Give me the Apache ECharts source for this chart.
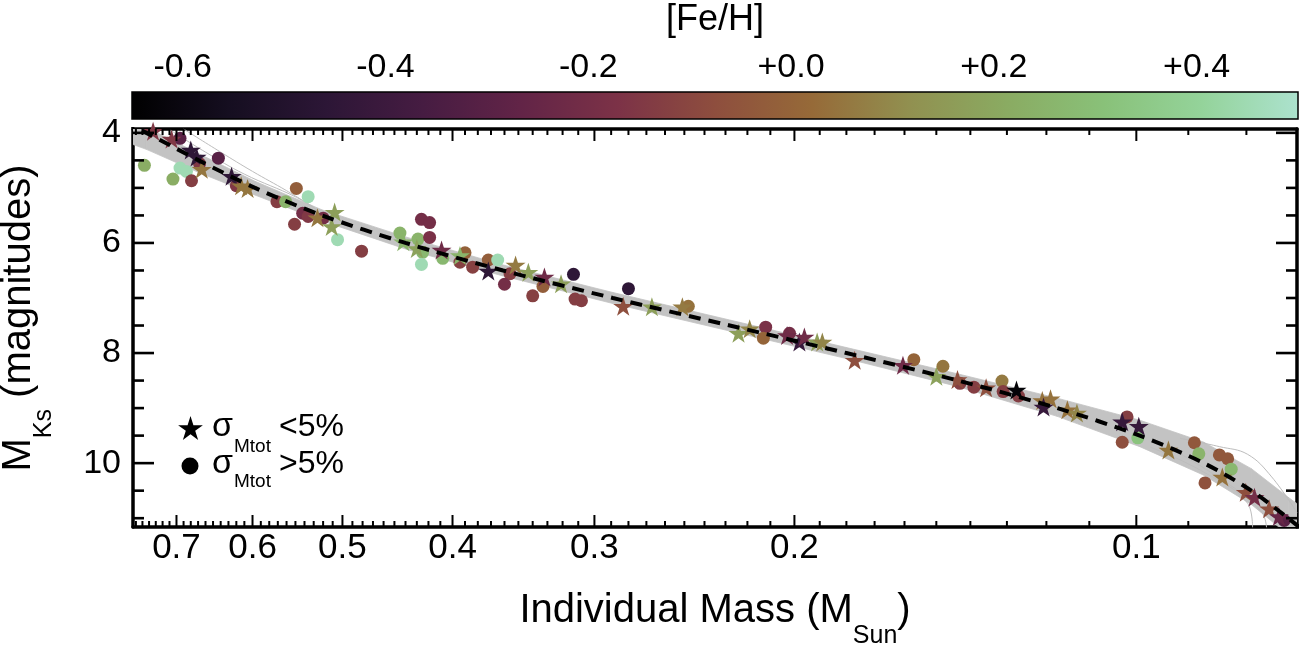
<!DOCTYPE html>
<html><head><meta charset="utf-8">
<script src="https://cdn.jsdelivr.net/npm/echarts@6/dist/echarts.min.js"></script>
<style>html,body{margin:0;padding:0;background:#fff}#c{width:1314px;height:653px}</style>
</head><body><div id="c"></div>
<script>
const FONT = '"Liberation Sans", Arial, Helvetica, sans-serif';

// ---- colour scale ([Fe/H]) ----
const FEH_MIN = -0.65, FEH_MAX = 0.5;
const FEH_TICKS = [-0.6, -0.4, -0.2, 0.0, 0.2, 0.4];
const COLORMAP = ['#000000','#150e20','#2c1636','#461c42','#622447','#7c3247','#8e4e3e',
                  '#966a38','#919050','#8aab62','#89c179','#94d39a','#ace2ce'];

// ---- axes ----
const X_MIN = 0.0722, X_MAX = 0.7645;           // Individual mass (M_Sun), log axis
const Y_MIN = 3.93, Y_MAX = 11.16;              // M_Ks (magnitudes), inverted
const X_TICK_LABELS = [0.7, 0.6, 0.5, 0.4, 0.3, 0.2, 0.1];
const X_MAJOR_TICKS = [0.1, 0.2, 0.3, 0.4, 0.5, 0.6, 0.7];
const X_MINOR_TICKS = [0.08,0.09,0.11,0.12,0.13,0.14,0.15,0.16,0.17,0.18,0.19,
  0.21,0.22,0.23,0.24,0.25,0.26,0.27,0.28,0.29,0.31,0.32,0.33,0.34,0.35,0.36,0.37,0.38,0.39,
  0.41,0.42,0.43,0.44,0.45,0.46,0.47,0.48,0.49,0.51,0.52,0.53,0.54,0.55,0.56,0.57,0.58,0.59,
  0.61,0.62,0.63,0.64,0.65,0.66,0.67,0.68,0.69,0.71,0.72,0.73,0.74,0.75,0.76];
const Y_TICK_LABELS = [4, 6, 8, 10];
const Y_MAJOR_TICKS = [4, 6, 8, 10];
const Y_MINOR_TICKS = [4.5,5,5.5,6.5,7,7.5,8.5,9,9.5,10.5,11];
const KS_REF = 7.0;    // any in-range magnitude, used to project x ticks
const MASS_REF = 0.3;  // any in-range mass, used to project y ticks

// ---- stars: sigma_Mtot < 5% ----
const STAR_MASS = [0.734,0.707,0.680,0.672,0.665,0.626,0.614,0.606,0.526,0.508,0.511,0.442,0.430,0.409,0.394,
  0.372,0.352,0.343,0.332,0.321,0.283,0.267,0.251,0.224,0.219,0.203,0.198,0.196,0.191,0.189,
  0.177,0.1605,0.150,0.1437,0.1356,0.1275,0.121,0.119,0.1207,0.115,0.1128,0.1029,0.0995,0.0937,0.0840,
  0.0801,0.0787,0.0764,0.0749];
const STAR_KS = [3.97,4.11,4.31,4.44,4.66,4.79,4.96,5.01,5.54,5.44,5.70,5.98,6.10,6.13,6.23,
  6.51,6.40,6.53,6.62,6.74,7.15,7.16,7.16,7.64,7.56,7.68,7.80,7.71,7.80,7.80,
  8.13,8.22,8.42,8.48,8.63,8.67,8.86,8.83,8.98,9.03,9.09,9.25,9.33,9.76,10.25,
  10.53,10.62,10.83,10.97];
const STAR_FEH = [-0.15,-0.15,-0.45,-0.45,0.05,-0.45,0.05,0.05,0.05,0.17,0.17,0.25,0.18,-0.22,0.25,
  -0.45,0.06,0.17,-0.22,0.17,-0.07,0.17,0.06,0.17,0.09,-0.22,-0.42,-0.22,0.17,0.09,
  -0.07,-0.22,0.18,-0.07,-0.07,-0.63,0.04,0.04,-0.42,0.04,0.09,-0.42,-0.42,0.05,0.04,
  -0.07,-0.2,-0.07,-0.25];

// ---- circles: sigma_Mtot > 5% ----
const CIRC_MASS = [0.695,0.668,0.643,0.747,0.695,0.686,0.705,0.679,0.620,0.549,0.536,0.571,0.561,0.551,0.542,
  0.536,0.520,0.505,0.481,0.445,0.429,0.425,0.426,0.419,0.419,0.426,0.408,0.390,0.394,0.384,
  0.372,0.365,0.356,0.360,0.333,0.313,0.340,0.312,0.308,0.280,0.248,0.212,0.213,0.202,0.157,
  0.148,0.143,0.139,0.1313,0.131,0.127,0.1019,0.0997,0.1029,0.0889,0.0881,0.0845,0.0831,0.0825,0.0870,0.0741];
const CIRC_KS = [4.10,4.56,4.46,4.59,4.64,4.70,4.84,4.87,4.96,5.01,5.16,5.25,5.25,5.66,5.46,
  5.52,5.55,5.94,6.15,5.82,5.93,6.17,5.57,5.63,5.90,6.39,6.28,6.18,6.35,6.44,
  6.31,6.31,6.56,6.75,6.79,6.57,6.96,7.02,7.05,6.83,7.15,7.53,7.73,7.64,8.12,
  8.24,8.55,8.62,8.51,8.70,8.78,9.16,9.54,9.62,9.63,9.83,9.85,9.92,10.11,10.36,11.04];
const CIRC_FEH = [-0.3,-0.15,-0.3,0.22,0.45,0.45,0.22,-0.13,-0.15,-0.02,0.45,-0.13,0.25,-0.13,-0.2,
  -0.15,-0.2,0.45,-0.13,0.25,0.25,0.27,-0.2,-0.2,-0.18,0.45,0.27,-0.01,-0.12,-0.12,
  -0.02,0.45,-0.13,-0.2,-0.02,-0.45,-0.12,-0.13,-0.13,-0.45,0.04,-0.18,0.0,-0.2,0.0,
  0.05,-0.13,-0.13,0.06,-0.13,-0.13,-0.13,0.32,-0.07,-0.04,0.25,-0.04,-0.04,0.27,-0.06,-0.3];

// ---- best-fit relation (dashed) and its scatter band ----
const FIT_MASS = [0.779,0.744,0.669,0.597,0.521,0.440,0.361,0.289,0.228,0.180,0.1435,0.1174,0.0993,0.0872,0.0792,0.0735,0.0715];
const FIT_KS   = [3.8,4.0,4.5,5.0,5.5,6.0,6.5,7.0,7.5,8.0,8.5,9.0,9.5,10.0,10.5,11.0,11.2];
const BAND_TOP    = [3.70,3.90,4.38,4.88,5.40,5.89,6.40,6.90,7.40,7.90,8.38,8.82,9.22,9.62,10.10,10.62,10.80];
const BAND_BOTTOM = [4.15,4.30,4.72,5.13,5.60,6.11,6.60,7.10,7.60,8.10,8.61,9.15,9.70,10.22,10.75,11.30,11.50];
// a few individual posterior draws that stray from the band
const VAR_A_MASS = [0.709,0.66,0.61,0.549,0.525], VAR_A_KS = [3.95,4.35,4.75,5.17,5.42];
const VAR_B_MASS = [0.69,0.64,0.60,0.56,0.53],    VAR_B_KS = [3.93,4.35,4.70,5.05,5.35];
const VAR_C_MASS = [0.0972,0.0878,0.0798,0.0790], VAR_C_KS = [9.71,10.13,10.73,11.17];
const VAR_D_MASS = [0.0915,0.0845,0.0798,0.0760,0.0722], VAR_D_KS = [9.55,9.70,9.84,10.25,10.90];
const VAR_E_MASS = [0.092,0.082,0.0775,0.0768],   VAR_E_KS = [9.80,10.45,10.90,11.17];

// five-pointed star outline in a 100x100 box
const STAR_PTS = [[50,0],[61.23,34.55],[97.55,34.55],[68.16,55.9],[79.39,90.45],[50,69.1],
                  [20.61,90.45],[31.84,55.9],[2.45,34.55],[38.77,34.55]];
const STAR_PATH = 'path://M' + STAR_PTS.map(p => p.join(',')).join(' L') + ' Z';

const zip = (a, b) => a.map((v, i) => [v, b[i]]);
const zip3 = (a, b, c) => a.map((v, i) => [v, b[i], c[i]]);

function xTickSeries(values, len) {
  return {
    type: 'custom', xAxisIndex: 0, yAxisIndex: 0, silent: true, z: 20,
    data: values.map(v => [v, KS_REF]),
    renderItem: (params, api) => {
      const cs = params.coordSys;
      const x = api.coord([api.value(0), api.value(1)])[0];
      if (x < cs.x || x > cs.x + cs.width) return;
      const yb = cs.y + cs.height, yt = cs.y;
      return { type: 'group', children: [
        { type: 'line', shape: { x1: x, y1: yb, x2: x, y2: yb - len }, style: { stroke: '#000', lineWidth: 2 } },
        { type: 'line', shape: { x1: x, y1: yt, x2: x, y2: yt + len }, style: { stroke: '#000', lineWidth: 2 } }
      ]};
    }
  };
}
function yTickSeries(values, len) {
  return {
    type: 'custom', xAxisIndex: 0, yAxisIndex: 0, silent: true, z: 20,
    data: values.map(v => [MASS_REF, v]),
    renderItem: (params, api) => {
      const cs = params.coordSys;
      const y = api.coord([api.value(0), api.value(1)])[1];
      const xl = cs.x, xr = cs.x + cs.width;
      return { type: 'group', children: [
        { type: 'line', shape: { x1: xl, y1: y, x2: xl + len, y2: y }, style: { stroke: '#000', lineWidth: 2.6 } },
        { type: 'line', shape: { x1: xr, y1: y, x2: xr - len, y2: y }, style: { stroke: '#000', lineWidth: 2.6 } }
      ]};
    }
  };
}
const thinLine = (m, k) => ({
  type: 'line', xAxisIndex: 0, yAxisIndex: 0, data: zip(m, k), symbol: 'none', smooth: 0.4, silent: true,
  lineStyle: { color: '#bdbdbd', width: 1 }, z: 2
});

const chart = echarts.init(document.getElementById('c'));
const subRich = {
  a: { fontSize: 40, fontFamily: FONT, color: '#000', lineHeight: 76 },
  b: { fontSize: 25, fontFamily: FONT, color: '#000', lineHeight: 25, padding: [51, 0, 0, 0] }
};
const legendStar = (cx, cy, w, h) => STAR_PTS.map(p => [cx - w / 2 + p[0] / 100 * w, cy - h / 2 + p[1] / 90.45 * h]);

chart.setOption({
  animation: false,
  backgroundColor: '#fff',
  grid: [
    { left: 133, top: 129, width: 1164, height: 398 },
    { left: 132, top: 92, width: 1166, height: 27 }
  ],
  xAxis: [
    { type: 'log', gridIndex: 0, min: X_MIN, max: X_MAX, inverse: true, position: 'bottom',
      axisLine: { show: true, lineStyle: { color: '#000', width: 3.5 } },
      axisTick: { show: false }, axisLabel: { show: false }, splitLine: { show: false } },
    { type: 'log', gridIndex: 0, min: X_MIN, max: X_MAX, inverse: true, position: 'top',
      axisLine: { show: true, lineStyle: { color: '#000', width: 3.5 } },
      axisTick: { show: false }, axisLabel: { show: false }, splitLine: { show: false } },
    { type: 'value', gridIndex: 1, min: FEH_MIN, max: FEH_MAX, position: 'top',
      axisLine: { show: false }, axisTick: { show: false }, splitLine: { show: false },
      axisLabel: { customValues: FEH_TICKS, fontSize: 34, fontFamily: FONT, color: '#000', margin: 7,
        formatter: v => (v >= -1e-9 ? '+' : '') + Number(v).toFixed(1) },
      name: '[Fe/H]', nameLocation: 'middle', nameGap: 54,
      nameTextStyle: { fontSize: 36, fontFamily: FONT, color: '#000' } }
  ],
  yAxis: [
    { type: 'value', gridIndex: 0, min: Y_MIN, max: Y_MAX, inverse: true, position: 'left',
      axisLine: { show: true, lineStyle: { color: '#000', width: 3.5 } },
      axisTick: { show: false }, splitLine: { show: false },
      axisLabel: { customValues: Y_TICK_LABELS, fontSize: 34, fontFamily: FONT, color: '#000', margin: 12 } },
    { type: 'value', gridIndex: 0, min: Y_MIN, max: Y_MAX, inverse: true, position: 'right',
      axisLine: { show: true, lineStyle: { color: '#000', width: 3.5 } },
      axisTick: { show: false }, axisLabel: { show: false }, splitLine: { show: false } },
    { type: 'value', gridIndex: 1, min: 0, max: 1, show: false }
  ],
  visualMap: {
    type: 'continuous', show: false, min: FEH_MIN, max: FEH_MAX, dimension: 2,
    seriesIndex: [7, 8], inRange: { color: COLORMAP }
  },
  series: [
    // 0: grey band, drawn as quads between consecutive knots
    { type: 'custom', xAxisIndex: 0, yAxisIndex: 0, silent: true, clip: true, z: 1,
      data: zip3(FIT_MASS, BAND_TOP, BAND_BOTTOM),
      renderItem: (params, api) => {
        const i = params.dataIndex;
        if (i >= FIT_MASS.length - 1) return;
        const a0 = api.coord([FIT_MASS[i], BAND_TOP[i]]), a1 = api.coord([FIT_MASS[i + 1], BAND_TOP[i + 1]]);
        const b1 = api.coord([FIT_MASS[i + 1], BAND_BOTTOM[i + 1]]), b0 = api.coord([FIT_MASS[i], BAND_BOTTOM[i]]);
        return { type: 'polygon', shape: { points: [a0, a1, b1, b0] },
                 style: { fill: '#c3c3c3', stroke: '#c3c3c3', lineWidth: 0.8 } };
      } },
    // 1: placeholder (keeps series indices stable)
    { type: 'line', xAxisIndex: 0, yAxisIndex: 0, data: [], silent: true },
    // 2-6: stray draws
    thinLine(VAR_A_MASS, VAR_A_KS), thinLine(VAR_B_MASS, VAR_B_KS), thinLine(VAR_C_MASS, VAR_C_KS),
    thinLine(VAR_D_MASS, VAR_D_KS), thinLine(VAR_E_MASS, VAR_E_KS),
    // 7: circles
    { type: 'scatter', name: 'circ', xAxisIndex: 0, yAxisIndex: 0, data: zip3(CIRC_MASS, CIRC_KS, CIRC_FEH),
      symbol: 'circle', symbolSize: 13, silent: true, z: 5, itemStyle: { opacity: 1 } },
    // 8: stars
    { type: 'scatter', name: 'star', xAxisIndex: 0, yAxisIndex: 0, data: zip3(STAR_MASS, STAR_KS, STAR_FEH),
      symbol: STAR_PATH, symbolSize: [20, 19], silent: true, z: 6, itemStyle: { opacity: 1 } },
    // 9: best fit
    { type: 'line', xAxisIndex: 0, yAxisIndex: 0, data: zip(FIT_MASS, FIT_KS), symbol: 'none', smooth: 0.3,
      silent: true, lineStyle: { color: '#000', width: 4, type: [12, 8] }, z: 8 },
    // ticks
    xTickSeries(X_MAJOR_TICKS, 12), xTickSeries(X_MINOR_TICKS, 6),
    yTickSeries(Y_MAJOR_TICKS, 21), yTickSeries(Y_MINOR_TICKS, 11),
    // x tick labels
    { type: 'custom', xAxisIndex: 0, yAxisIndex: 0, silent: true, z: 20,
      data: X_TICK_LABELS.map(v => [v, KS_REF]),
      renderItem: (params, api) => {
        const cs = params.coordSys;
        const x = api.coord([api.value(0), api.value(1)])[0];
        return { type: 'text', x: x, y: cs.y + cs.height + 4,
          style: { text: String(X_TICK_LABELS[params.dataIndex]), fontSize: 35, fontFamily: FONT,
                   fill: '#000', align: 'center', verticalAlign: 'top' } };
      } },
    // colour bar
    { type: 'custom', xAxisIndex: 2, yAxisIndex: 2, silent: true,
      data: [[FEH_MIN, 0, FEH_MAX, 1]],
      renderItem: (params, api) => {
        const p0 = api.coord([api.value(0), api.value(3)]);
        const p1 = api.coord([api.value(2), api.value(1)]);
        return { type: 'rect', shape: { x: p0[0], y: p0[1], width: p1[0] - p0[0], height: p1[1] - p0[1] },
          style: { fill: new echarts.graphic.LinearGradient(0, 0, 1, 0,
                     COLORMAP.map((c, i) => ({ offset: i / (COLORMAP.length - 1), color: c }))),
                   stroke: '#000', lineWidth: 1.5 } };
      } }
  ],
  graphic: [
    { type: 'text', x: 715, y: 573,
      style: { text: '{a|Individual Mass (M}{b|Sun}{a|)}', rich: subRich, align: 'center', verticalAlign: 'top' } },
    { type: 'text', x: -19, y: 318, rotation: Math.PI / 2,
      style: { text: '{a|M}{b|Ks}{a| (magnitudes)}', rich: subRich, align: 'center', verticalAlign: 'top' } },
    // legend
    { type: 'polygon', shape: { points: legendStar(190.5, 428, 26, 24) }, style: { fill: '#000' } },
    { type: 'circle', shape: { cx: 190, cy: 466, r: 8.5 }, style: { fill: '#000' } },
    { type: 'text', x: 212, y: 426.9, style: { text: 'σ', fontSize: 34, fontFamily: FONT, fill: '#000', verticalAlign: 'middle' } },
    { type: 'text', x: 234, y: 446.4, style: { text: 'Mtot', fontSize: 19, fontFamily: FONT, fill: '#000', verticalAlign: 'middle' } },
    { type: 'text', x: 279, y: 426.9, style: { text: '<5%', fontSize: 32, fontFamily: FONT, fill: '#000', verticalAlign: 'middle' } },
    { type: 'text', x: 212, y: 463.9, style: { text: 'σ', fontSize: 34, fontFamily: FONT, fill: '#000', verticalAlign: 'middle' } },
    { type: 'text', x: 234, y: 481.4, style: { text: 'Mtot', fontSize: 19, fontFamily: FONT, fill: '#000', verticalAlign: 'middle' } },
    { type: 'text', x: 279, y: 463.9, style: { text: '>5%', fontSize: 32, fontFamily: FONT, fill: '#000', verticalAlign: 'middle' } }
  ]
});
</script></body></html>
